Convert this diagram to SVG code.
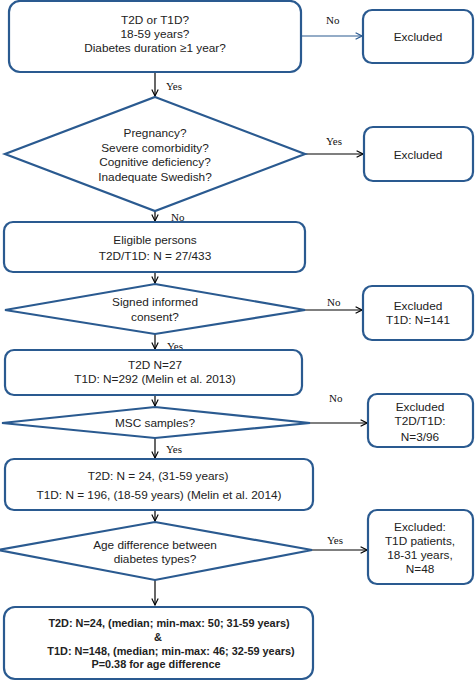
<svg xmlns="http://www.w3.org/2000/svg" width="475" height="681" viewBox="0 0 475 681">
<defs>
<marker id="ah" viewBox="0 0 10 10" refX="9" refY="5" markerWidth="8" markerHeight="8" markerUnits="userSpaceOnUse" orient="auto">
<path d="M1,1 L9,5 L1,9" fill="none" stroke="#000" stroke-width="1.4"/>
</marker>
<marker id="ahb" viewBox="0 0 10 10" refX="9" refY="5" markerWidth="8" markerHeight="8" markerUnits="userSpaceOnUse" orient="auto">
<path d="M1,1 L9,5 L1,9" fill="none" stroke="#2a5a90" stroke-width="1.4"/>
</marker>
</defs>
<style>
.n{fill:#fff;stroke:#2a5a90;stroke-width:2.2}
.t{font-family:"Liberation Sans",Arial,sans-serif;font-size:11.8px;fill:#222;text-anchor:middle}
.b{font-family:"Liberation Sans",Arial,sans-serif;font-size:10.9px;font-weight:bold;fill:#222;text-anchor:middle}
.l{font-family:"Liberation Serif","Times New Roman",serif;font-size:11px;fill:#111}
.c{fill:none;stroke:#000;stroke-width:1.2;marker-end:url(#ah)}
.cb{fill:none;stroke:#2a5a90;stroke-width:1.2;marker-end:url(#ahb)}
</style>
<rect width="475" height="681" fill="#fff"/>
<g id="connectors">
<line class="cb" x1="301" y1="36" x2="362" y2="36"/>
<line class="c" x1="155" y1="72" x2="155" y2="96"/>
<line class="c" x1="305" y1="154" x2="363" y2="154"/>
<line class="c" x1="155" y1="211" x2="155" y2="221"/>
<line class="c" x1="155" y1="272" x2="155" y2="283"/>
<line class="c" x1="305" y1="310" x2="362" y2="310"/>
<line class="c" x1="155" y1="334" x2="155" y2="349"/>
<line class="c" x1="155" y1="395" x2="155" y2="406"/>
<line class="c" x1="310" y1="423" x2="367" y2="423"/>
<line class="c" x1="155" y1="438" x2="155" y2="458"/>
<line class="c" x1="155" y1="510" x2="155" y2="521"/>
<line class="c" x1="312" y1="550" x2="367" y2="550"/>
<line class="c" x1="155" y1="580" x2="155" y2="605"/>
<text class="l" x="326" y="24">No</text>
<text class="l" x="166" y="90">Yes</text>
<text class="l" x="326" y="145">Yes</text>
<text class="l" x="171" y="221">No</text>
<text class="l" x="327" y="306">No</text>
<text class="l" x="167" y="350">Yes</text>
<text class="l" x="329" y="402">No</text>
<text class="l" x="166" y="453">Yes</text>
<text class="l" x="327" y="544">Yes</text>
</g>
<g id="q1">
<rect class="n" x="9" y="1" width="292" height="71" rx="11"/>
<text class="t" x="155" y="24">T2D or T1D?</text>
<text class="t" x="155" y="38">18-59 years?</text>
<text class="t" x="155" y="52">Diabetes duration ≥1 year?</text>
</g>
<g id="ex1">
<rect class="n" x="363" y="10" width="110" height="53" rx="9"/>
<text class="t" x="418" y="41">Excluded</text>
</g>
<g id="q2">
<polygon class="n" points="155,97 305,154 155,211 5,154"/>
<text class="t" x="155" y="137">Pregnancy?</text>
<text class="t" x="155" y="152">Severe comorbidity?</text>
<text class="t" x="155" y="166">Cognitive  deficiency?</text>
<text class="t" x="155" y="181">Inadequate Swedish?</text>
</g>
<g id="ex2">
<rect class="n" x="364" y="127" width="109" height="54" rx="9"/>
<text class="t" x="418" y="159">Excluded</text>
</g>
<g id="eligible">
<rect class="n" x="4" y="222" width="301" height="50" rx="9"/>
<text class="t" x="155" y="244">Eligible persons</text>
<text class="t" x="155" y="260">T2D/T1D: N = 27/433</text>
</g>
<g id="q3">
<polygon class="n" points="155,284 305,310 155,334 5,310"/>
<text class="t" x="155" y="306">Signed informed</text>
<text class="t" x="155" y="321">consent?</text>
</g>
<g id="ex3">
<rect class="n" x="363" y="286" width="110" height="54" rx="9"/>
<text class="t" x="418" y="310">Excluded</text>
<text class="t" x="418" y="324">T1D: N=141</text>
</g>
<g id="n4">
<rect class="n" x="5" y="350" width="297" height="45" rx="9"/>
<text class="t" x="155" y="369">T2D N=27</text>
<text class="t" x="155" y="383">T1D: N=292 (Melin et al. 2013)</text>
</g>
<g id="q4">
<polygon class="n" points="155,407 310,423 155,438 2,423"/>
<text class="t" x="155" y="427">MSC samples?</text>
</g>
<g id="ex4">
<rect class="n" x="368" y="394" width="105" height="53" rx="9"/>
<text class="t" x="420" y="411">Excluded</text>
<text class="t" x="420" y="425">T2D/T1D:</text>
<text class="t" x="420" y="441">N=3/96</text>
</g>
<g id="n5">
<rect class="n" x="5" y="459" width="308" height="51" rx="9"/>
<text class="t" x="158" y="480">T2D: N = 24, (31-59 years)</text>
<text class="t" x="159" y="499">T1D: N = 196, (18-59 years) (Melin et al. 2014)</text>
</g>
<g id="q5">
<polygon class="n" points="155,522 312,550 155,580 -2,550"/>
<text class="t" x="155" y="549">Age difference between</text>
<text class="t" x="155" y="563">diabetes types?</text>
</g>
<g id="ex5">
<rect class="n" x="368" y="510" width="105" height="74" rx="9"/>
<text class="t" x="420" y="531">Excluded:</text>
<text class="t" x="420" y="545">T1D patients,</text>
<text class="t" x="420" y="559">18-31 years,</text>
<text class="t" x="420" y="573">N=48</text>
</g>
<g id="final">
<rect class="n" x="4" y="607" width="309" height="72" rx="11"/>
<text class="b" x="169" y="627">T2D: N=24, (median; min-max: 50; 31-59 years)</text>
<text class="b" x="158" y="641">&amp;</text>
<text class="b" x="171" y="655">T1D: N=148, (median; min-max: 46; 32-59 years)</text>
<text class="b" x="156" y="668">P=0.38 for age difference</text>
</g>
</svg>
